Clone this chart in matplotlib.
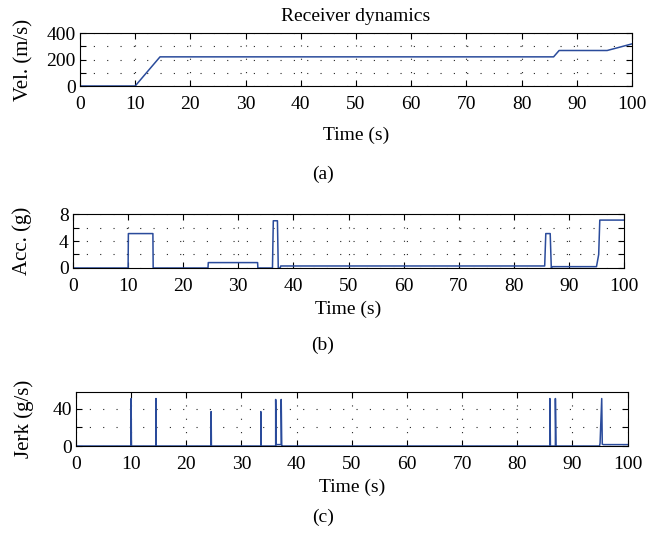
import numpy as np
import matplotlib.pyplot as plt

plt.rcParams['font.family'] = ['Liberation Serif', 'DejaVu Serif']
plt.rcParams['font.size'] = 14

# Velocidade (m/s)
vel_t = [0, 10, 14.5, 85.8, 86.8, 95.5, 97.5, 100]
vel_v = [0, 0, 220, 220, 268, 268, 290, 318]

# Aceleracao (g)
acc_t = [0, 10, 10.05, 14.5, 14.55, 24.5, 24.55, 33.5, 33.55, 36.2, 36.35, 37.1, 37.25,
         37.6, 37.7, 85.6, 85.8, 86.6, 86.8, 87.0, 95.0, 95.4, 95.6, 100]
acc_v = [0, 0, 5.1, 5.1, 0, 0, 0.8, 0.8, 0, 0, 7.0, 7.0, 0,
         0, 0.3, 0.3, 5.1, 5.1, 0, 0.2, 0.2, 2.0, 7.1, 7.1]

# Jerk (g/s)
jerk_t = [0, 10, 10, 10.05, 14.5, 14.5, 14.55, 24.5, 24.5, 24.55, 33.5, 33.5, 33.55,
          36.2, 36.2, 36.3, 37.2, 37.2, 37.3, 37.4, 85.9, 85.9, 86.0, 86.9, 86.9, 87.0,
          94.9, 95.0, 95.3, 95.4, 95.6, 100]
jerk_v = [0, 0, 51, 0, 0, 51, 0, 0, 37, 0, 0, 37, 0,
          0, 50, 1.5, 1.5, 50, 0, 0, 0, 51, 0, 0, 51, 0,
          0, 3, 51, 2, 1.5, 1.5]

cor = '#2a4b9b'
grade = dict(color='0.15', linestyle=(0, (1, 11)), linewidth=0.8)

fig = plt.figure(figsize=(6.46, 5.52), dpi=100)


def painel(pos, t, v, ylim, yticks, ylabels, ylabel, xlab, lpad):
    ax = fig.add_axes(pos)
    ax.plot(t, v, color=cor, linewidth=1.1)
    ax.set_xlim(0, 100)
    ax.set_ylim(*ylim)
    ax.set_xticks(np.arange(0, 101, 10))
    ax.set_yticks(yticks)
    ax.set_yticklabels(ylabels)
    ax.tick_params(direction='in', top=True, right=True, length=4, pad=3)
    ax.tick_params(axis='x', pad=7)
    ax.grid(True, **grade)
    ax.set_xlabel('Time (s)', labelpad=lpad)
    ax.set_ylabel(ylabel, fontsize=15)
    ax.yaxis.set_label_coords(xlab, 0.5)
    return ax


ax1 = painel([0.1238, 0.8442, 0.8545, 0.096], vel_t, vel_v, (0, 400),
             [0, 100, 200, 300, 400], ['0', '', '200', '', '400'], 'Vel. (m/s)', -0.084, 10)
ax1.set_title('Receiver dynamics', fontsize=14, pad=9)

ax2 = painel([0.1130, 0.5145, 0.853, 0.0978], acc_t, acc_v, (0, 8),
             [0, 2, 4, 6, 8], ['0', '', '4', '', '8'], 'Acc. (g)', -0.074, 4)

ax3 = painel([0.1176, 0.192, 0.854, 0.0978], jerk_t, jerk_v, (0, 58),
             [0, 20, 40], ['0', '', '40'], 'Jerk (g/s)', -0.076, 4)

fig.text(0.5, 0.685, '(a)', ha='center', va='center', fontsize=14)
fig.text(0.5, 0.375, '(b)', ha='center', va='center', fontsize=14)
fig.text(0.5, 0.062, '(c)', ha='center', va='center', fontsize=14)

fig.savefig('out.png', dpi=100)
